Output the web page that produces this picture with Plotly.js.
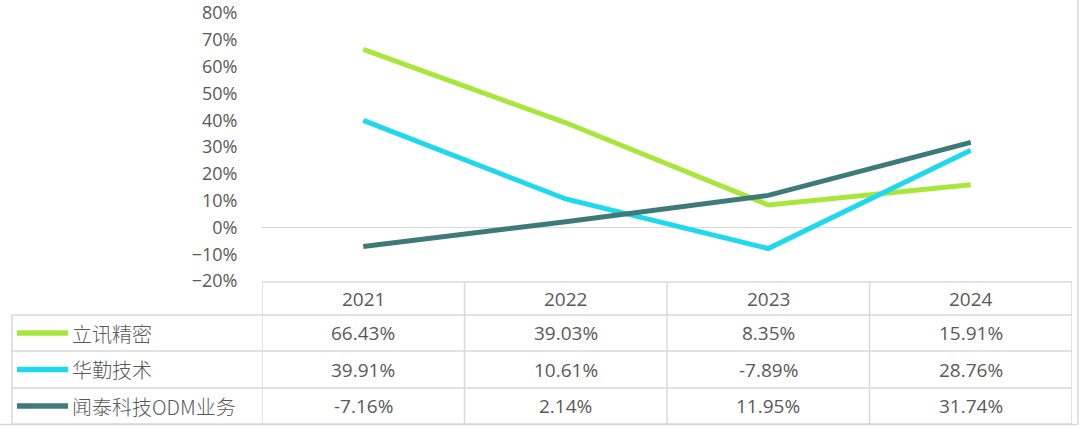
<!DOCTYPE html>
<html>
<head>
<meta charset="utf-8">
<script src="https://cdn.plot.ly/plotly-3.0.1.min.js"></script>
<style>html,body{margin:0;padding:0;background:#fff;}#chart{width:1080px;height:428px;}</style>
</head>
<body>
<div id="chart"></div>
<script>
// ---- data ----
const years = ["2021", "2022", "2023", "2024"];
const seriesNames = ["立讯精密", "华勤技术", "闻泰科技ODM业务"];
const lixun = [66.43, 39.03, 8.35, 15.91];
const huaqin = [39.91, 10.61, -7.89, 28.76];
const wingtech = [-7.16, 2.14, 11.95, 31.74];
const seriesColors = ["#A8E63B", "#1FD8EE", "#3E7B78"];

const W = 1080, H = 428;
const px = v => v / W;
const py = v => 1 - v / H;

const allSeries = [lixun, huaqin, wingtech];
const traces = allSeries.map((vals, i) => ({
  type: "scatter", mode: "lines",
  x: years, y: vals.map(v => v / 100),
  line: {color: seriesColors[i], width: 5},
  name: seriesNames[i], hoverinfo: "skip"
}));

const grid = "#D9D9D9";
const txt = "#595959";
const shapes = [];
const annotations = [];

// table geometry (pixels)
const headTop = 282, rowTops = [315, 351, 388], tableBottom = 424;
const leftX = 12;
shapes.push({type:"line", xref:"x", yref:"paper", x0:-0.5, x1:years.length-0.5, y0:py(headTop), y1:py(headTop), line:{color:grid, width:1.5}});
rowTops.concat([tableBottom]).forEach(y => shapes.push({type:"line", xref:"paper", yref:"paper", x0:px(leftX), x1:px(1072), y0:py(y), y1:py(y), line:{color:grid, width:1.5}}));
for (let i = 0; i <= years.length; i++) {
  shapes.push({type:"line", xref:"x", yref:"paper", x0:i-0.5, x1:i-0.5, y0:py(headTop), y1:py(tableBottom), line:{color:grid, width:1.5}});
}
shapes.push({type:"line", xref:"paper", yref:"paper", x0:px(leftX), x1:px(leftX), y0:py(rowTops[0]), y1:py(tableBottom), line:{color:grid, width:1.5}});
// outer chart border (right, bottom)
shapes.push({type:"line", xref:"paper", yref:"paper", x0:px(1078), x1:px(1078), y0:py(0), y1:py(tableBottom), line:{color:grid, width:1.5}});
shapes.push({type:"line", xref:"paper", yref:"paper", x0:0, x1:px(1078), y0:py(tableBottom+0.5), y1:py(tableBottom+0.5), line:{color:grid, width:1.5}});

const numFont = {family:"Open Sans, sans-serif", size:19, color:txt};
// header labels (x as category index)
years.forEach((yr, c) => annotations.push({xref:"x", yref:"paper", x:c, y:py((headTop+rowTops[0])/2), xanchor:"center", yanchor:"middle", text:yr, showarrow:false, font:numFont}));

const rowBounds = [rowTops[0], rowTops[1], rowTops[2], tableBottom];
allSeries.forEach((vals, r) => {
  const cy = (rowBounds[r] + rowBounds[r+1]) / 2;
  shapes.push({type:"line", xref:"paper", yref:"paper", x0:px(17), x1:px(68), y0:py(cy), y1:py(cy), line:{color:seriesColors[r], width:5.5}});
  annotations.push({xref:"paper", yref:"paper", x:px(70), y:py(cy), xanchor:"left", yanchor:"middle", text:seriesNames[r], showarrow:false, font:{family:"Noto Sans CJK SC, Open Sans, sans-serif", size:20, weight:300, color:txt}});
  vals.forEach((v, c) => annotations.push({xref:"x", yref:"paper", x:c, y:py(cy), xanchor:"center", yanchor:"middle", text:v.toFixed(2)+"%", showarrow:false, font:numFont}));
});

const layout = {
  width: W, height: H,
  margin: {l:0, r:0, t:0, b:0},
  paper_bgcolor: "#fff", plot_bgcolor: "#fff",
  showlegend: false,
  xaxis: {type:"category", domain:[px(262), px(1072)], range:[-0.5, years.length-0.5], showticklabels:false, showgrid:false, zeroline:false, showline:false, ticks:""},
  yaxis: {domain:[py(281), py(13)], range:[-0.2, 0.8], dtick:0.1, tick0:0, tickformat:".0%", showgrid:false, zeroline:true, zerolinecolor:grid, zerolinewidth:1.5, showline:false, ticks:"outside", ticklen:20, tickcolor:"rgba(0,0,0,0)", tickfont:{family:"Open Sans, sans-serif", size:18, color:txt}},
  shapes: shapes,
  annotations: annotations
};
Plotly.newPlot("chart", traces, layout, {displayModeBar:false, staticPlot:true});
</script>
</body>
</html>
